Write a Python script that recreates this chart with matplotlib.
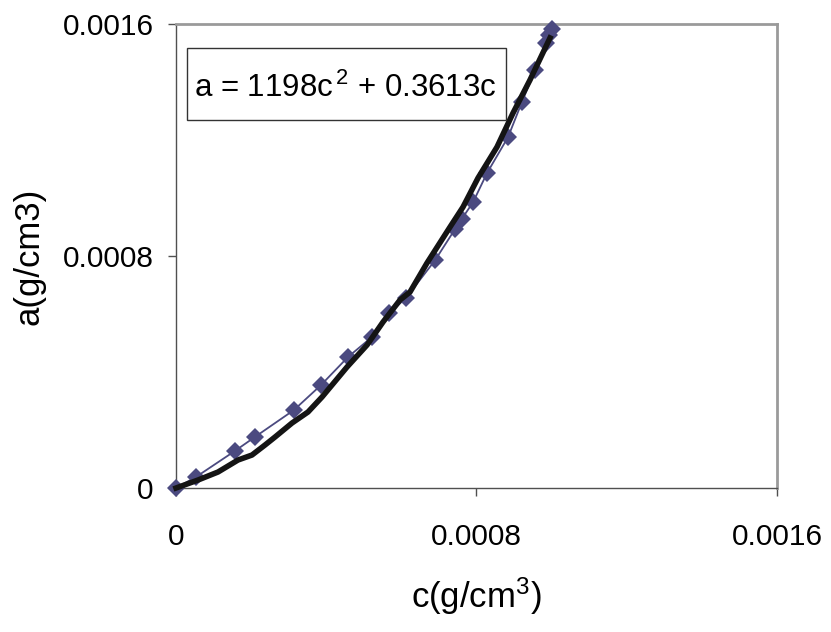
import matplotlib.pyplot as plt
from matplotlib.patches import Rectangle

plt.rcParams['font.family'] = ['Liberation Sans', 'DejaVu Sans']
plt.rcParams['mathtext.fontset'] = 'custom'
plt.rcParams['mathtext.rm'] = 'Liberation Sans'
plt.rcParams['mathtext.it'] = 'Liberation Sans'

# measured points (diamonds)
c_meas = [0.0, 5.3e-5, 1.57e-4, 2.10e-4, 3.14e-4, 3.86e-4, 4.58e-4, 5.22e-4,
          5.67e-4, 6.12e-4, 6.90e-4, 7.43e-4, 7.61e-4, 7.91e-4, 8.28e-4,
          8.84e-4, 9.21e-4, 9.56e-4, 9.85e-4, 9.93e-4, 1.001e-3]
a_meas = [0.0, 3.8e-5, 1.28e-4, 1.76e-4, 2.69e-4, 3.55e-4, 4.52e-4, 5.21e-4,
          6.03e-4, 6.55e-4, 7.86e-4, 8.93e-4, 9.28e-4, 9.86e-4, 1.086e-3,
          1.21e-3, 1.331e-3, 1.441e-3, 1.534e-3, 1.562e-3, 1.583e-3]

# second (thick black) curve
c_curve = [0.0, 5.86e-5, 1.118e-4, 1.651e-4, 2.023e-4, 2.369e-4, 2.636e-4,
           3.088e-4, 3.514e-4, 3.887e-4, 4.552e-4, 5.085e-4, 5.511e-4,
           5.963e-4, 6.230e-4, 6.682e-4, 7.295e-4, 7.641e-4, 8.040e-4,
           8.546e-4, 8.972e-4, 9.424e-4, 9.957e-4]
a_curve = [0.0, 2.76e-5, 5.52e-5, 9.66e-5, 1.138e-4, 1.483e-4, 1.759e-4,
           2.241e-4, 2.621e-4, 3.138e-4, 4.172e-4, 4.931e-4, 5.724e-4,
           6.483e-4, 6.759e-4, 7.759e-4, 9.0e-4, 9.69e-4, 1.069e-3,
           1.176e-3, 1.293e-3, 1.407e-3, 1.552e-3]

ticks = [0, 0.0008, 0.0016]
tick_labels = ['0', '0.0008', '0.0016']

fig = plt.figure(figsize=(8.31, 6.32), dpi=100)
ax = fig.add_axes([0.2118, 0.2278, 0.7232, 0.7342])

ax.plot(c_meas, a_meas, color='#4B4A80', lw=1.3, marker='D', markersize=9.5,
        markeredgewidth=0, clip_on=False, zorder=3)
ax.plot(c_curve, a_curve, color='#141414', lw=4.0, clip_on=False, zorder=4)

ax.set_xlim(0, 0.0016)
ax.set_ylim(0, 0.0016)
ax.set_xticks(ticks)
ax.set_xticklabels(tick_labels)
ax.set_yticks(ticks)
ax.set_yticklabels(tick_labels)
ax.tick_params(axis='both', direction='out', length=6, width=1,
               color='#505050', labelsize=21.5)
ax.tick_params(axis='x', pad=19)
ax.tick_params(axis='y', pad=10)

for side in ['left', 'bottom']:
    ax.spines[side].set_color('#505050')
    ax.spines[side].set_linewidth(1.0)
for side in ['top', 'right']:
    ax.spines[side].set_color('#9a9a9a')
    ax.spines[side].set_linewidth(2.0)

ax.set_xlabel('c(g/cm$^{3}$)', fontsize=25, labelpad=18)
ax.set_ylabel('a(g/cm3)', fontsize=25, labelpad=12)

# equation box
ax.add_patch(Rectangle((0.0183, 0.793), 0.531, 0.155, transform=ax.transAxes,
                       facecolor='white', edgecolor='#333333', lw=1.0, zorder=5))
ax.text(0.281, 0.862, 'a = 1198c$^{\\,2}$ + 0.3613c', transform=ax.transAxes,
        ha='center', va='center', fontsize=22.5, zorder=6)

fig.savefig('out.png', dpi=100)
